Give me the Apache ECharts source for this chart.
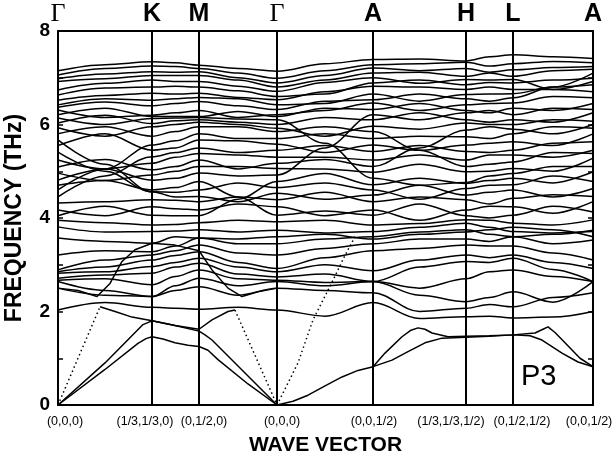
<!DOCTYPE html>
<html>
<head>
<meta charset="utf-8">
<script src="https://cdn.jsdelivr.net/npm/echarts@6/dist/echarts.min.js"></script>
<style>
  html, body { margin: 0; padding: 0; background: #fff; }
  #chart { width: 616px; height: 457px; }
</style>
</head>
<body>
<div id="chart"></div>
<script>
// High-symmetry points along the path (path length units)
const kTicks = [0, 94, 141, 219, 315, 408, 455, 535];
const kNames = ['Γ', 'K', 'M', 'Γ', 'A', 'H', 'L', 'A'];
const kCoords = ['(0,0,0)', '(1/3,1/3,0)', '(0,1/2,0)', '(0,0,0)', '(0,0,1/2)', '(1/3,1/3,1/2)', '(0,1/2,1/2)', '(0,0,1/2)'];
const freqTicks = [0, 2, 4, 6, 8];

// Sampling positions: each point and the middle of each segment
const kGrid = [0, 47, 94, 117.5, 141, 180, 219, 267, 315, 361.5, 408, 431.5, 455, 495, 535];

// Optical branches below ~3.8 THz (values on kGrid)
const lowBands = [
  [2.03, 2.19, 2.09, 2.07, 2.05, 2.09, 2.03, 1.90, 2.19, 1.85, 1.89, 1.90, 1.86, 1.88, 2.00],
  [2.50, 2.35, 2.32, 2.45, 2.53, 2.35, 2.50, 2.45, 2.40, 2.00, 2.07, 2.15, 2.10, 2.30, 2.40],
  [2.64, 2.45, 2.32, 2.55, 2.71, 2.55, 2.64, 2.55, 2.64, 2.35, 2.21, 2.30, 2.42, 2.20, 2.64],
  [2.67, 2.70, 2.57, 2.75, 2.89, 2.70, 2.67, 2.62, 2.64, 2.50, 2.70, 2.85, 2.89, 2.75, 2.64],
  [2.71, 2.78, 2.82, 2.95, 3.03, 2.80, 2.74, 2.80, 2.64, 2.95, 3.07, 3.05, 3.14, 2.90, 2.64],
  [2.82, 2.85, 2.96, 3.05, 3.14, 2.95, 2.85, 3.00, 2.87, 3.10, 3.21, 3.15, 3.21, 3.05, 2.92],
  [2.85, 2.95, 3.10, 3.20, 3.28, 3.05, 2.92, 3.15, 3.30, 3.35, 3.42, 3.40, 3.40, 3.25, 3.10],
  [2.89, 3.10, 3.21, 3.30, 3.42, 3.25, 3.21, 3.35, 3.45, 3.55, 3.55, 3.50, 3.60, 3.45, 3.53],
  [3.21, 3.30, 3.28, 3.40, 3.57, 3.45, 3.45, 3.55, 3.60, 3.70, 3.75, 3.65, 3.60, 3.65, 3.74],
  [3.57, 3.50, 3.46, 3.60, 3.57, 3.55, 3.60, 3.65, 3.55, 3.65, 3.70, 3.75, 3.80, 3.75, 3.60]
];

// Optical branches from ~3.7 THz to the top of the spectrum (values on kGrid)
const highBands = [
  [3.81, 3.70, 3.71, 3.72, 3.75, 3.70, 3.74, 3.68, 3.71, 3.80, 3.89, 3.80, 3.71, 3.68, 3.71],
  [3.95, 3.90, 3.85, 3.86, 3.90, 3.95, 3.92, 3.95, 3.85, 3.88, 3.96, 3.95, 3.89, 3.85, 3.96],
  [4.05, 4.25, 4.06, 4.05, 4.05, 4.40, 4.78, 4.95, 4.71, 4.85, 4.74, 4.80, 4.85, 4.75, 4.99],
  [4.17, 4.05, 4.24, 4.20, 4.17, 4.30, 4.24, 4.05, 4.17, 3.95, 4.17, 4.25, 4.24, 4.10, 4.35],
  [4.32, 4.35, 4.39, 4.38, 4.35, 4.45, 4.39, 4.55, 4.35, 4.45, 4.39, 4.30, 4.42, 4.50, 4.46],
  [4.45, 4.90, 5.31, 5.40, 5.50, 5.40, 5.45, 5.55, 5.42, 5.55, 5.42, 5.40, 5.45, 5.60, 5.63],
  [4.60, 5.05, 5.56, 5.65, 5.80, 5.70, 5.70, 5.80, 5.70, 5.75, 5.74, 5.70, 5.80, 5.95, 5.92],
  [4.70, 4.80, 4.60, 4.65, 4.78, 4.45, 4.06, 4.15, 4.06, 4.30, 4.05, 4.00, 4.06, 4.25, 4.13],
  [4.81, 5.05, 4.81, 4.85, 4.96, 4.90, 4.92, 5.50, 6.21, 6.10, 6.25, 6.30, 6.21, 6.35, 6.32],
  [4.96, 4.80, 4.92, 5.00, 5.10, 5.10, 5.06, 5.05, 4.98, 5.15, 4.99, 5.00, 5.06, 5.00, 5.28],
  [5.09, 5.25, 5.03, 5.10, 5.24, 5.05, 5.17, 5.25, 5.10, 5.50, 5.88, 5.95, 5.90, 5.80, 6.00],
  [5.24, 5.05, 5.17, 5.30, 5.38, 5.35, 5.30, 5.30, 5.24, 5.35, 5.24, 5.35, 5.35, 5.30, 5.45],
  [5.41, 5.00, 4.56, 4.45, 4.46, 4.35, 4.53, 4.40, 4.49, 4.70, 4.49, 4.55, 4.60, 4.45, 4.63],
  [5.55, 5.80, 5.45, 5.50, 5.67, 5.65, 5.58, 5.40, 5.56, 5.45, 5.56, 5.60, 5.63, 5.55, 5.80],
  [5.67, 5.15, 4.56, 4.55, 4.60, 4.75, 4.65, 4.75, 4.60, 4.40, 4.63, 4.70, 4.71, 4.90, 4.78],
  [5.80, 5.95, 5.75, 5.85, 5.95, 5.95, 5.85, 5.95, 5.85, 5.45, 5.10, 5.15, 5.20, 5.40, 5.38],
  [5.93, 5.75, 5.95, 6.00, 6.05, 6.00, 5.92, 5.75, 5.96, 5.90, 6.03, 6.00, 6.00, 6.10, 6.07],
  [6.03, 6.20, 6.02, 6.08, 6.10, 6.05, 6.00, 6.15, 6.10, 6.25, 6.10, 6.05, 6.10, 6.05, 6.25],
  [6.14, 6.00, 6.13, 6.14, 6.15, 6.12, 6.10, 5.60, 4.85, 4.70, 4.76, 4.90, 4.95, 5.10, 5.10],
  [6.21, 6.35, 6.17, 6.17, 6.17, 6.28, 6.17, 6.35, 6.32, 6.45, 6.30, 6.25, 6.35, 6.30, 6.45],
  [6.31, 6.15, 6.20, 6.25, 6.30, 6.15, 6.21, 6.30, 6.46, 6.30, 6.42, 6.45, 6.46, 6.60, 6.57],
  [6.37, 6.48, 6.40, 6.45, 6.49, 6.40, 6.32, 6.50, 6.53, 6.65, 6.55, 6.50, 6.57, 6.80, 7.10],
  [6.42, 6.55, 6.52, 6.55, 6.58, 6.55, 6.42, 6.45, 6.65, 6.50, 6.64, 6.65, 6.66, 6.80, 6.85],
  [6.52, 6.62, 6.67, 6.65, 6.67, 6.58, 6.53, 6.70, 6.82, 6.80, 6.75, 6.80, 6.75, 6.75, 6.92],
  [6.63, 6.78, 6.80, 6.82, 6.80, 6.72, 6.60, 6.65, 6.89, 6.95, 6.85, 6.90, 6.89, 6.95, 6.99],
  [6.74, 6.88, 6.95, 6.92, 6.92, 6.82, 6.71, 6.90, 7.00, 6.88, 6.96, 6.95, 6.96, 6.75, 6.70],
  [6.92, 6.98, 7.05, 7.05, 7.05, 6.95, 6.80, 6.95, 7.10, 7.12, 7.03, 7.10, 7.03, 7.15, 7.18],
  [6.98, 7.08, 7.13, 7.12, 7.13, 7.00, 6.89, 7.05, 7.21, 7.15, 7.20, 7.12, 7.17, 7.22, 7.24],
  [7.06, 7.20, 7.25, 7.24, 7.20, 7.10, 6.99, 7.15, 7.28, 7.30, 7.33, 7.25, 7.30, 7.35, 7.32],
  [7.15, 7.28, 7.34, 7.32, 7.27, 7.20, 7.14, 7.30, 7.39, 7.40, 7.36, 7.45, 7.49, 7.45, 7.41]
];

// Acoustic and steep branches, given as [path position, THz]
const acousticLow = [[0, 0], [47, 0.76], [80, 1.32], [88, 1.42], [94, 1.46], [105, 1.41], [117, 1.33], [130, 1.28],
  [141, 1.25], [150, 1.17], [160, 0.97], [190, 0.45], [219, 0],
  [235, 0.08], [250, 0.21], [268, 0.42], [284, 0.6], [300, 0.74], [315, 0.82], [334, 0.96], [350, 1.14], [367, 1.33],
  [384, 1.43], [408, 1.45], [431, 1.47], [455, 1.50], [472, 1.48], [484, 1.39], [504, 1.11], [520, 0.92], [535, 0.82]];
const acousticMidGK = [[0, 0], [47, 0.9], [85, 1.72], [94, 1.8], [117, 1.7], [141, 1.58], [147, 1.5], [154, 1.39],
  [177, 0.9], [219, 0]];
const acousticMidAL = [[315, 0.82], [327, 1.11], [344, 1.46], [353, 1.6], [360, 1.65], [367, 1.62], [374, 1.54],
  [390, 1.46], [408, 1.47], [431, 1.48], [455, 1.50], [477, 1.54], [485, 1.62], [490, 1.67], [497, 1.55],
  [507, 1.33], [522, 1.0], [535, 0.82]];
const longitudinal = [[42, 2.1], [57, 2.0], [74, 1.88], [94, 1.80], [117, 1.70], [141, 1.62], [154, 1.82], [170, 2.0], [177, 2.03]];
const steepBand = [[0, 2.5], [20, 2.45], [39, 2.32], [52, 2.6], [64, 3.07], [77, 3.32], [94, 3.46], [117, 3.42],
  [141, 3.30], [154, 2.89], [170, 2.5], [184, 2.32], [200, 2.42], [219, 2.5]];
const dottedLeft = [[0, 0], [42, 2.1]];
const dottedRight = [[177, 2.03], [219, 0]];
const dottedGA = [[219, 0], [240, 0.9], [255, 1.82], [275, 2.67], [287, 3.2], [297, 3.6]];

const series = [];

function addLine(data, smooth, dotted) {
  series.push({
    type: 'line',
    data: data,
    showSymbol: false,
    smooth: smooth,
    smoothMonotone: 'x',
    silent: true,
    animation: false,
    lineStyle: dotted ? { color: '#000', width: 1.5, type: [1.5, 3] } : { color: '#000', width: 1.5 }
  });
}

lowBands.concat(highBands).forEach(b => addLine(kGrid.map((k, i) => [k, b[i]]), 0.35, false));
[acousticLow, acousticMidGK, acousticMidAL, longitudinal, steepBand].forEach(d => addLine(d, false, false));
[dottedLeft, dottedRight, dottedGA].forEach(d => addLine(d, false, true));

// Vertical separators at the interior high-symmetry points
series.push({
  type: 'line',
  data: [],
  silent: true,
  animation: false,
  markLine: {
    symbol: 'none',
    silent: true,
    animation: false,
    label: { show: false },
    lineStyle: { color: '#000', width: 2, type: 'solid' },
    data: kTicks.slice(1, -1).map(k => ({ xAxis: k }))
  }
});

// Horizontal offsets for the coordinate labels so neighbours do not collide
const coordPad = [[0, 0, 0, 14], [0, 14, 0, 0], [0, 0, 0, 10], [0, 0, 0, 10], [0, 0, 0, 2], [0, 30, 0, 0], [0, 0, 0, 18], [0, 8, 0, 0]];
const coordRich = {};
coordPad.forEach((p, i) => {
  coordRich['c' + i] = { padding: p, fontSize: 12.5, fontFamily: 'Liberation Sans', color: '#000' };
});

const chart = echarts.init(document.getElementById('chart'), null, { renderer: 'canvas' });
chart.setOption({
  backgroundColor: '#fff',
  animation: false,
  grid: { left: 58, right: 23, top: 31, bottom: 52, outerBoundsMode: 'none', containLabel: false },
  xAxis: [
    {
      type: 'value', min: kTicks[0], max: kTicks[kTicks.length - 1], position: 'bottom',
      name: 'WAVE VECTOR', nameLocation: 'middle', nameGap: 30,
      nameTextStyle: { fontSize: 21, fontWeight: 'bold', fontFamily: 'Liberation Sans', color: '#000' },
      axisLine: { show: true, onZero: false, lineStyle: { color: '#000', width: 2 } },
      axisTick: { show: false },
      splitLine: { show: false },
      axisLabel: {
        customValues: kTicks, margin: 10, hideOverlap: false, showMinLabel: true, showMaxLabel: true,
        formatter: (v) => { const i = kTicks.indexOf(v); return '{c' + i + '|' + kCoords[i] + '}'; },
        rich: coordRich
      }
    },
    {
      type: 'value', min: kTicks[0], max: kTicks[kTicks.length - 1], position: 'top',
      axisLine: { show: true, onZero: false, lineStyle: { color: '#000', width: 2 } },
      axisTick: { show: false },
      splitLine: { show: false },
      axisLabel: {
        customValues: kTicks, margin: 4, hideOverlap: false, showMinLabel: true, showMaxLabel: true,
        formatter: (v) => { const n = kNames[kTicks.indexOf(v)]; return n === 'Γ' ? '{g|Γ}' : '{s|' + n + '}'; },
        rich: {
          g: { fontSize: 26, fontFamily: 'Liberation Serif', color: '#000' },
          s: { fontSize: 25, fontWeight: 'bold', fontFamily: 'Liberation Sans', color: '#000' }
        }
      }
    }
  ],
  yAxis: [
    {
      type: 'value', min: 0, max: 8, interval: 1, position: 'left',
      name: 'FREQUENCY (THz)', nameLocation: 'middle', nameGap: 32,
      nameTextStyle: { fontSize: 23, fontWeight: 'bold', fontFamily: 'Liberation Sans', color: '#000' },
      axisLine: { show: true, onZero: false, lineStyle: { color: '#000', width: 2 } },
      axisTick: { show: true, inside: true, length: 5, lineStyle: { color: '#000', width: 1.5 } },
      splitLine: { show: false },
      axisLabel: {
        margin: 8, fontSize: 19, fontWeight: 'bold', fontFamily: 'Liberation Sans', color: '#000',
        formatter: (v) => freqTicks.indexOf(v) >= 0 ? String(v) : ''
      }
    },
    {
      type: 'value', min: 0, max: 8, interval: 1, position: 'right',
      axisLine: { show: true, onZero: false, lineStyle: { color: '#000', width: 2 } },
      axisTick: { show: true, inside: true, length: 5, lineStyle: { color: '#000', width: 1.5 } },
      splitLine: { show: false },
      axisLabel: { show: false }
    }
  ],
  graphic: [
    {
      type: 'text', left: 521, top: 362,
      style: { text: 'P3', fontSize: 29, fontFamily: 'Liberation Sans', fill: '#000' }
    }
  ],
  series: series
});
</script>
</body>
</html>
